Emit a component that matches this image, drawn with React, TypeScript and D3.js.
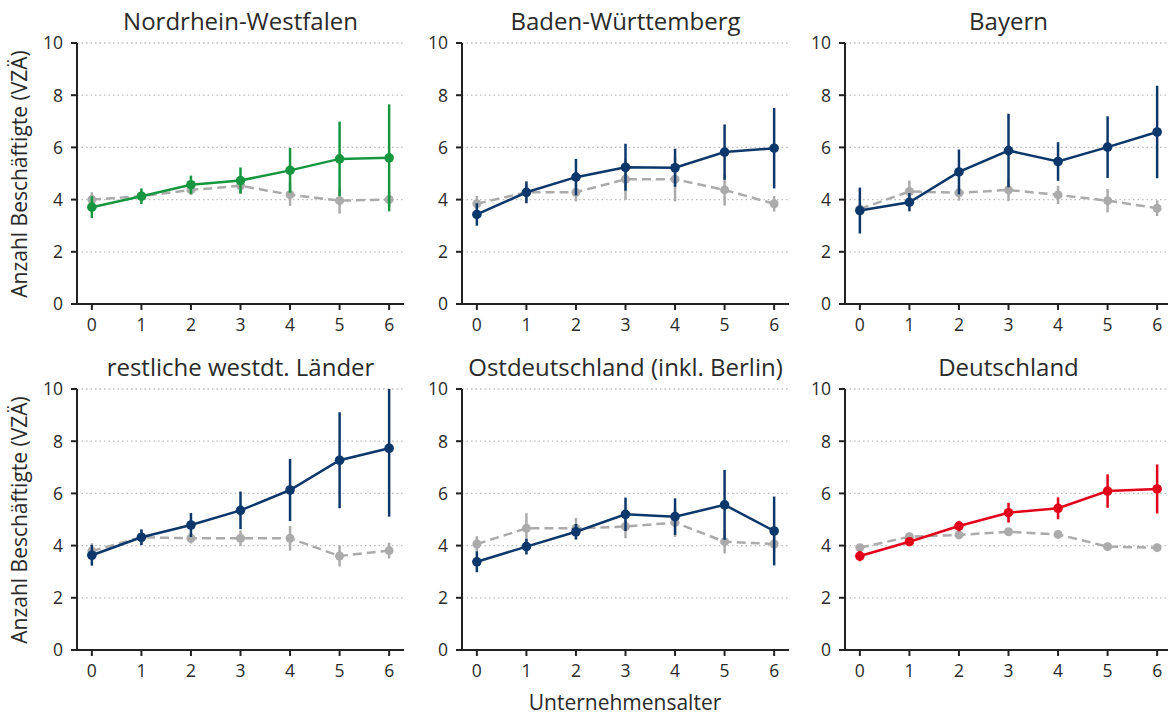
import React from "react";
import * as d3 from "d3";

const ages = [0, 1, 2, 3, 4, 5, 6];
const panelTitles = [
  "Nordrhein-Westfalen",
  "Baden-Württemberg",
  "Bayern",
  "restliche westdt. Länder",
  "Ostdeutschland (inkl. Berlin)",
  "Deutschland",
];
const panelColors = ["#15963f", "#0c376b", "#0c376b", "#0c376b", "#0c376b", "#e3001b"];

// region series (mean) and half-width of error bars
const regionMean = [
  [3.71, 4.13, 4.57, 4.73, 5.12, 5.56, 5.6],
  [3.43, 4.28, 4.86, 5.24, 5.22, 5.82, 5.97],
  [3.58, 3.9, 5.06, 5.88, 5.46, 6.01, 6.59],
  [3.63, 4.32, 4.79, 5.35, 6.13, 7.27, 7.73],
  [3.38, 3.96, 4.53, 5.2, 5.11, 5.56, 4.56],
  [3.6, 4.15, 4.75, 5.26, 5.43, 6.09, 6.17],
];
const regionErr = [
  [0.42, 0.3, 0.35, 0.5, 0.86, 1.43, 2.05],
  [0.43, 0.42, 0.7, 0.9, 0.73, 1.06, 1.54],
  [0.88, 0.35, 0.86, 1.41, 0.74, 1.18, 1.77],
  [0.4, 0.3, 0.46, 0.72, 1.19, 1.84, 2.62],
  [0.4, 0.3, 0.3, 0.64, 0.7, 1.34, 1.32],
  [0.2, 0.12, 0.2, 0.38, 0.42, 0.64, 0.94],
];
// comparison series (gray dashed)
const compMean = [
  [4.0, 4.13, 4.37, 4.53, 4.19, 3.96, 4.0],
  [3.84, 4.28, 4.28, 4.78, 4.78, 4.37, 3.84],
  [3.64, 4.31, 4.26, 4.37, 4.18, 3.96, 3.67],
  [3.79, 4.32, 4.28, 4.28, 4.28, 3.6, 3.81],
  [4.06, 4.66, 4.66, 4.73, 4.88, 4.15, 4.06],
  [3.92, 4.34, 4.41, 4.53, 4.43, 3.96, 3.92],
];
const compErr = [
  [0.28, 0.2, 0.2, 0.3, 0.43, 0.5, 0.3],
  [0.3, 0.3, 0.35, 0.8, 0.85, 0.6, 0.3],
  [0.2, 0.42, 0.3, 0.43, 0.35, 0.45, 0.3],
  [0.3, 0.3, 0.2, 0.3, 0.47, 0.4, 0.3],
  [0.3, 0.58, 0.4, 0.45, 0.55, 0.45, 0.3],
  [0.1, 0.1, 0.1, 0.12, 0.15, 0.12, 0.1],
];
const yTicks = [0, 2, 4, 6, 8, 10];
const gridTicks = [2, 4, 6, 8, 10];

const FONT = "'Open Sans', 'Noto Sans', sans-serif";
const GRAY = "#ababab";
const TXT = "#2a2a2a";

const panelLefts = [77, 462, 845];
const panelTops = [43, 389];
const plotW = 327;
const plotH = 261;

function Panel({ idx }: { idx: number }) {
  const col = idx % 3;
  const row = Math.floor(idx / 3);
  const x0 = panelLefts[col];
  const y0 = panelTops[row];
  const x = d3.scaleLinear().domain([-0.3, 6.3]).range([x0, x0 + plotW]);
  const y = d3.scaleLinear().domain([0, 10]).range([y0 + plotH, y0]);
  const clampY = (v: number) => y(Math.max(0, Math.min(10, v)));
  const line = d3
    .line<number>()
    .x((_, i) => x(ages[i]))
    .y((d) => y(d));
  const color = panelColors[idx];
  const rm = regionMean[idx];
  const re = regionErr[idx];
  const cm = compMean[idx];
  const ce = compErr[idx];
  return (
    <g>
      <text
        x={x(3)}
        y={y0 - 13}
        textAnchor="middle"
        fontSize={24}
        fill={TXT}
        fontFamily={FONT}
      >
        {panelTitles[idx]}
      </text>
      {gridTicks.map((t) => (
        <line
          key={"g" + t}
          x1={x0}
          x2={x0 + plotW}
          y1={y(t)}
          y2={y(t)}
          stroke="#bdbdbd"
          strokeWidth={1.3}
          strokeDasharray="1.5,3"
        />
      ))}
      {/* comparison series */}
      {cm.map((v, i) => (
        <line
          key={"ce" + i}
          x1={x(ages[i])}
          x2={x(ages[i])}
          y1={clampY(v - ce[i])}
          y2={clampY(v + ce[i])}
          stroke={GRAY}
          strokeWidth={2.5}
        />
      ))}
      <path d={line(cm) || ""} fill="none" stroke={GRAY} strokeWidth={2.5} strokeDasharray="9,5" />
      {cm.map((v, i) => (
        <circle key={"cc" + i} cx={x(ages[i])} cy={y(v)} r={4.5} fill={GRAY} />
      ))}
      {/* region series */}
      {rm.map((v, i) => (
        <line
          key={"re" + i}
          x1={x(ages[i])}
          x2={x(ages[i])}
          y1={clampY(v - re[i])}
          y2={clampY(v + re[i])}
          stroke={color}
          strokeWidth={2.5}
        />
      ))}
      <path d={line(rm) || ""} fill="none" stroke={color} strokeWidth={2.5} />
      {rm.map((v, i) => (
        <circle key={"rc" + i} cx={x(ages[i])} cy={y(v)} r={4.8} fill={color} />
      ))}
      {/* axes */}
      <line x1={x0} x2={x0} y1={y0} y2={y0 + plotH} stroke="#222" strokeWidth={2} />
      <line x1={x0} x2={x0 + plotW} y1={y0 + plotH} y2={y0 + plotH} stroke="#222" strokeWidth={2} />
      {yTicks.map((t) => (
        <g key={"yt" + t}>
          <line x1={x0 - 6} x2={x0} y1={y(t)} y2={y(t)} stroke="#222" strokeWidth={2} />
          <text
            x={x0 - 14}
            y={y(t)}
            dy="0.36em"
            textAnchor="end"
            fontSize={17.5}
            fill={TXT}
            fontFamily={FONT}
          >
            {t}
          </text>
        </g>
      ))}
      {ages.map((a) => (
        <g key={"xt" + a}>
          <line x1={x(a)} x2={x(a)} y1={y0 + plotH} y2={y0 + plotH + 6} stroke="#222" strokeWidth={2} />
          <text
            x={x(a)}
            y={y0 + plotH + 27}
            textAnchor="middle"
            fontSize={17.5}
            fill={TXT}
            fontFamily={FONT}
          >
            {a}
          </text>
        </g>
      ))}
    </g>
  );
}

export default function App() {
  return (
    <svg
      width={1168}
      height={717}
      style={{ position: "absolute", left: 0, top: 0, background: "#fff" }}
    >
      {panelTitles.map((_, i) => (
        <Panel key={i} idx={i} />
      ))}
      {[174, 520].map((cy, i) => (
        <text
          key={"yl" + i}
          transform={`translate(27,${cy}) rotate(-90)`}
          textAnchor="middle"
          fontSize={21}
          fill={TXT}
          fontFamily={FONT}
        >
          Anzahl Beschäftigte (VZÄ)
        </text>
      ))}
      <text x={625} y={710} textAnchor="middle" fontSize={21} fill={TXT} fontFamily={FONT}>
        Unternehmensalter
      </text>
    </svg>
  );
}
